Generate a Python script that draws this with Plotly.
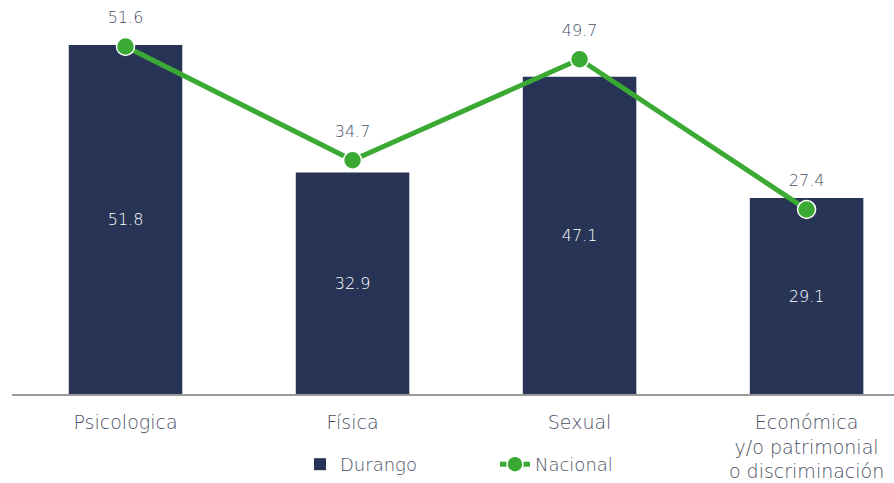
import plotly.graph_objects as go

categories = ["Psicologica", "Física", "Sexual", "Económica<br>y/o patrimonial<br>o discriminación"]
durango = [51.8, 32.9, 47.1, 29.1]
nacional = [51.6, 34.7, 49.7, 27.4]

bar_color = "#283456"
line_color = "#3aaa35"
text_color = "#4a5064"
font_family = "'DejaVu Sans', 'Noto Sans', sans-serif"

fig = go.Figure()

fig.add_trace(go.Bar(
    x=categories, y=durango, name="Durango",
    marker=dict(color=bar_color, line=dict(width=0)),
    width=0.5,
    text=[f"{v:.1f}" for v in durango],
    textposition="inside", insidetextanchor="middle",
    textfont=dict(color="white", size=16, family=font_family, weight=300),
    hoverinfo="x+y",
))

fig.add_trace(go.Scatter(
    x=categories, y=nacional, name="Nacional",
    mode="lines+markers",
    line=dict(color=line_color, width=5),
    marker=dict(color=line_color, size=18, line=dict(color="white", width=1.5)),
    cliponaxis=False,
))

# value labels for the national line, offset a little further above the markers
fig.add_trace(go.Scatter(
    x=categories, y=nacional, mode="markers+text",
    marker=dict(size=30, color="rgba(0,0,0,0)"),
    text=[f"{v:.1f}" for v in nacional],
    textposition="top center",
    textfont=dict(color=text_color, size=16, family=font_family, weight=300),
    showlegend=False, hoverinfo="skip", cliponaxis=False,
))

fig.update_layout(
    width=894, height=483,
    margin=dict(l=12, r=0, t=0, b=89),
    paper_bgcolor="white", plot_bgcolor="white",
    font=dict(family=font_family, color=text_color, size=17, weight=300),
    showlegend=True,
    legend=dict(
        orientation="h", x=0.3265, xanchor="left", y=-0.226, yanchor="bottom",
        font=dict(size=18, color=text_color, family=font_family, weight=300),
        entrywidth=150, entrywidthmode="pixels",
        traceorder="normal",
    ),
    bargap=0.5,
)

fig.update_xaxes(
    range=[-0.5, 3.385],
    showline=True, linecolor="#9a9a9a", linewidth=2,
    showgrid=False, ticks="", automargin=False,
    ticklabelstandoff=10,
    tickfont=dict(size=19, color=text_color, family=font_family, weight=300),
)
fig.update_yaxes(
    range=[0, 58.5], visible=False, showgrid=False, zeroline=False,
)

fig.write_html("out.html")
